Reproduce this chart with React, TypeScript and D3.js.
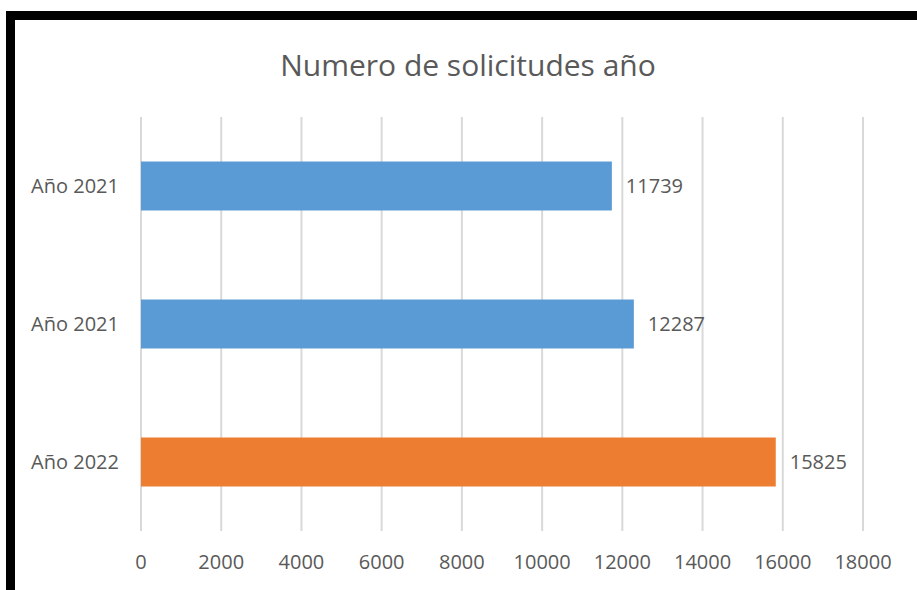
import { useEffect, useRef } from 'react';
import * as d3 from 'd3';

const categories = ['Año 2021', 'Año 2021', 'Año 2022'];
const values = [11739, 12287, 15825];
const barColors = ['#5B9BD5', '#5B9BD5', '#ED7D31'];
const xTicks = [0, 2000, 4000, 6000, 8000, 10000, 12000, 14000, 16000, 18000];
const title = 'Numero de solicitudes año';

export default function App() {
    const ref = useRef<SVGSVGElement>(null);

    useEffect(() => {
        const svg = d3.select(ref.current);
        svg.selectAll('*').remove();

        const font = "'Open Sans', sans-serif";
        const textColor = '#595959';
        const left = 141, right = 863, top = 117, bottom = 531;

        // frame (black border on top and left)
        svg.append('rect').attr('x', 0).attr('y', 0).attr('width', 917).attr('height', 590).attr('fill', '#fff');
        svg.append('rect').attr('x', 6).attr('y', 11).attr('width', 911).attr('height', 9).attr('fill', '#000');
        svg.append('rect').attr('x', 6).attr('y', 11).attr('width', 9).attr('height', 579).attr('fill', '#000');

        const x = d3.scaleLinear().domain([0, 18000]).range([left, right]);
        const y = d3.scaleBand<number>()
            .domain(categories.map((_, i) => i))
            .range([top, bottom])
            .paddingInner(0.645)
            .paddingOuter(0.3225);

        // grid
        svg.append('g')
            .selectAll('line')
            .data(xTicks)
            .join('line')
            .attr('x1', d => x(d)).attr('x2', d => x(d))
            .attr('y1', top).attr('y2', bottom)
            .attr('stroke', '#D9D9D9')
            .attr('stroke-width', 2);

        // bars
        svg.append('g')
            .selectAll('rect')
            .data(values)
            .join('rect')
            .attr('x', x(0))
            .attr('y', (_, i) => y(i)!)
            .attr('width', d => x(d) - x(0))
            .attr('height', y.bandwidth())
            .attr('fill', (_, i) => barColors[i]);

        // data labels
        svg.append('g')
            .selectAll('text')
            .data(values)
            .join('text')
            .attr('x', d => x(d) + 14)
            .attr('y', (_, i) => y(i)! + y.bandwidth() / 2 + 7)
            .attr('font-family', font)
            .attr('font-size', 20)
            .attr('fill', textColor)
            .text(d => d);

        // category labels
        svg.append('g')
            .selectAll('text')
            .data(categories)
            .join('text')
            .attr('x', 119)
            .attr('y', (_, i) => y(i)! + y.bandwidth() / 2 + 7)
            .attr('text-anchor', 'end')
            .attr('font-family', font)
            .attr('font-size', 20)
            .attr('fill', textColor)
            .text(d => d);

        // x tick labels
        svg.append('g')
            .selectAll('text')
            .data(xTicks)
            .join('text')
            .attr('x', d => x(d))
            .attr('y', 569)
            .attr('text-anchor', 'middle')
            .attr('font-family', font)
            .attr('font-size', 20)
            .attr('fill', textColor)
            .text(d => d);

        svg.append('text')
            .attr('x', 468)
            .attr('y', 76)
            .attr('text-anchor', 'middle')
            .attr('font-family', font)
            .attr('font-size', 30)
            .attr('fill', textColor)
            .text(title);
    }, []);

    return (
        <svg
            ref={ref}
            width={917}
            height={590}
            style={{ display: 'block', position: 'absolute', left: 0, top: 0 }}
        />
    );
}
